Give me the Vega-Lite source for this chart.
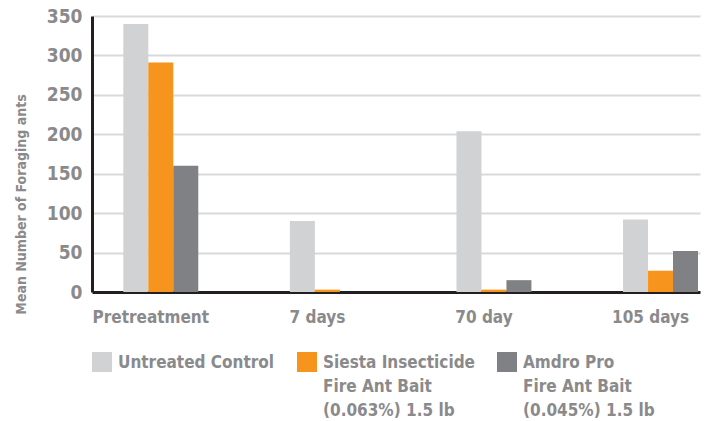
{
  "$schema": "https://vega.github.io/schema/vega-lite/v6.json",
  "width": 608,
  "height": 276,
  "autosize": {"type": "none"},
  "padding": {"left": 92, "top": 16, "right": 5, "bottom": 129},
  "background": "white",
  "config": {
    "view": {"stroke": null},
    "font": "DejaVu Sans Condensed, Liberation Sans, sans-serif"
  },
  "data": {
    "values": [
      {"period": "Pretreatment", "treatment": "Untreated Control", "ants": 340},
      {"period": "Pretreatment", "treatment": "Siesta Insecticide\nFire Ant Bait\n(0.063%) 1.5 lb", "ants": 291},
      {"period": "Pretreatment", "treatment": "Amdro Pro\nFire Ant Bait\n(0.045%) 1.5 lb", "ants": 160},
      {"period": "7 days", "treatment": "Untreated Control", "ants": 90},
      {"period": "7 days", "treatment": "Siesta Insecticide\nFire Ant Bait\n(0.063%) 1.5 lb", "ants": 3},
      {"period": "7 days", "treatment": "Amdro Pro\nFire Ant Bait\n(0.045%) 1.5 lb", "ants": 0},
      {"period": "70 day", "treatment": "Untreated Control", "ants": 204},
      {"period": "70 day", "treatment": "Siesta Insecticide\nFire Ant Bait\n(0.063%) 1.5 lb", "ants": 3},
      {"period": "70 day", "treatment": "Amdro Pro\nFire Ant Bait\n(0.045%) 1.5 lb", "ants": 15},
      {"period": "105 days", "treatment": "Untreated Control", "ants": 92},
      {"period": "105 days", "treatment": "Siesta Insecticide\nFire Ant Bait\n(0.063%) 1.5 lb", "ants": 27},
      {"period": "105 days", "treatment": "Amdro Pro\nFire Ant Bait\n(0.045%) 1.5 lb", "ants": 52}
    ]
  },
  "mark": {"type": "bar"},
  "encoding": {
    "x": {
      "field": "period",
      "type": "nominal",
      "sort": ["Pretreatment", "7 days", "70 day", "105 days"],
      "scale": {"paddingInner": 0.55, "paddingOuter": 0.1, "align": 0.94},
      "axis": {
        "title": null,
        "labelAngle": 0,
        "ticks": false,
        "labelFontSize": 17,
        "labelFontWeight": "bold",
        "labelColor": "#8a8a8c",
        "labelPadding": 17,
        "labelOffset": -10,
        "domainColor": "#231f20",
        "domainWidth": 3,
        "grid": false
      }
    },
    "xOffset": {
      "field": "treatment",
      "type": "nominal",
      "sort": ["Untreated Control", "Siesta Insecticide\nFire Ant Bait\n(0.063%) 1.5 lb", "Amdro Pro\nFire Ant Bait\n(0.045%) 1.5 lb"],
      "scale": {"paddingInner": 0, "paddingOuter": 0}
    },
    "y": {
      "field": "ants",
      "type": "quantitative",
      "scale": {"domain": [0, 350], "nice": false},
      "axis": {
        "title": "Mean Number of Foraging ants",
        "titleFontSize": 14,
        "titleFontWeight": "bold",
        "titleColor": "#8a8a8c",
        "titleX": -71,
        "titleY": 188,
        "titleAngle": -90,
        "titleAlign": "center",
        "titleBaseline": "middle",
        "values": [0, 50, 100, 150, 200, 250, 300, 350],
        "ticks": false,
        "labelFontSize": 19,
        "labelFontWeight": "bold",
        "labelColor": "#8a8a8c",
        "labelPadding": 10,
        "domainColor": "#231f20",
        "domainWidth": 3,
        "gridColor": "#d9d9d9",
        "gridWidth": 2
      }
    },
    "color": {
      "field": "treatment",
      "type": "nominal",
      "sort": ["Untreated Control", "Siesta Insecticide\nFire Ant Bait\n(0.063%) 1.5 lb", "Amdro Pro\nFire Ant Bait\n(0.045%) 1.5 lb"],
      "scale": {
        "domain": ["Untreated Control", "Siesta Insecticide\nFire Ant Bait\n(0.063%) 1.5 lb", "Amdro Pro\nFire Ant Bait\n(0.045%) 1.5 lb"],
        "range": ["#d1d2d4", "#f7941d", "#808184"]
      },
      "legend": {
        "title": null,
        "orient": "none",
        "legendX": 0,
        "legendY": 336,
        "direction": "horizontal",
        "symbolType": "square",
        "symbolSize": 400,
        "symbolStrokeWidth": 0,
        "symbolOpacity": 1,
        "labelFontSize": 17,
        "labelFontWeight": "bold",
        "labelColor": "#8a8a8c",
        "labelLimit": 300,
        "labelOffset": 6,
        "labelBaseline": "top",
        "labelExpr": "datum.label == 'Untreated Control' ? ['Untreated Control', '', ''] : split(datum.label, '\\n')",
        "columnPadding": 22,
        "encode": {
          "labels": {"update": {"dy": {"value": -7}, "lineHeight": {"value": 24}}}
        }
      }
    }
  }
}
